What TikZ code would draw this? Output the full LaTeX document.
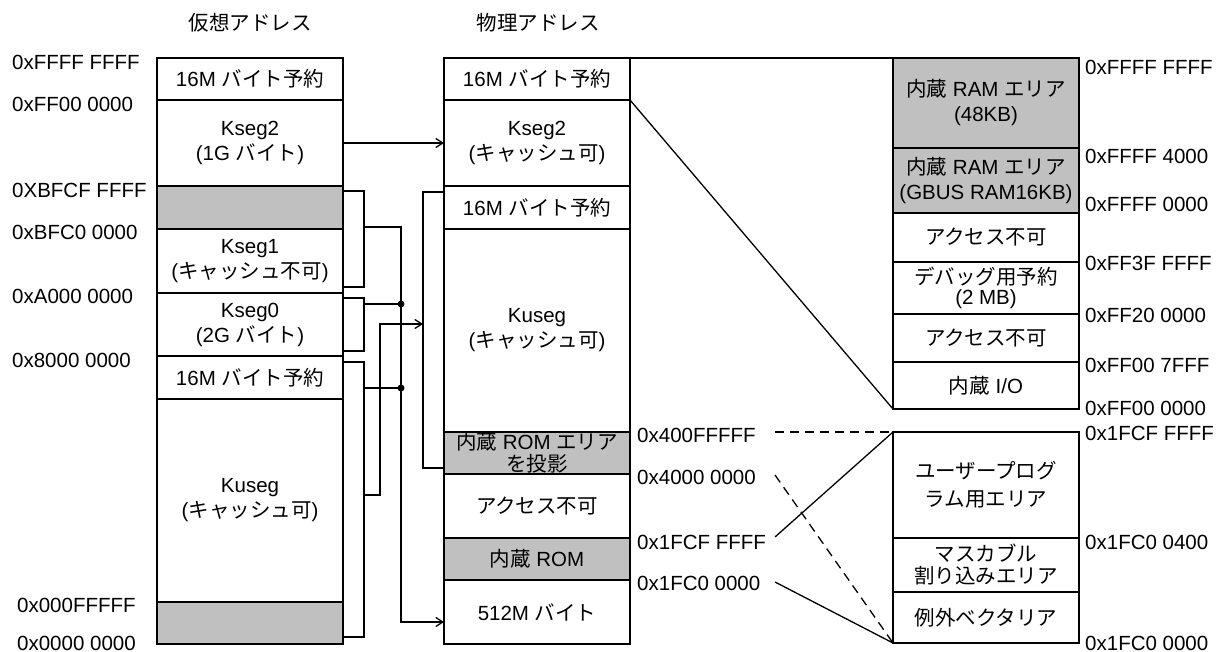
\documentclass[tikz,border=0pt]{standalone}
\usepackage{fontspec}
\setmainfont{Liberation Sans}
\newfontfamily\jpfont{Noto Sans CJK JP}
\usetikzlibrary{arrows.meta}
\definecolor{romgray}{RGB}{192,192,192}
\begin{document}
\begin{tikzpicture}[x=1pt, y=-1pt, >={Straight Barb[length=7pt,width=9pt]},
    font=\fontsize{20.5}{25}\selectfont,
    seg/.style={draw, line width=1.5pt, minimum width=186pt, inner sep=0pt, outer sep=0pt, anchor=north west, align=center},
    grey/.style={seg, fill=romgray},
    addr/.style={anchor=west, inner sep=0pt},
    wire/.style={line width=1.3pt},
    dots/.style={wire, dash pattern=on 9pt off 6pt},
    dot/.style={circle, fill, inner sep=0pt, minimum size=7pt}]
\useasboundingbox (0,0) rectangle (1224,652);
\node (vtitle) at (250,23) {\jpfont 仮想アドレス};
\node (ptitle) at (538,23) {\jpfont 物理アドレス};

\node[seg, minimum height=42pt] (vres1) at (157,58) {16M {\jpfont バイト予約}};
\node[seg, minimum height=86pt] (vk2) at (157,100) {Kseg2\\(1G {\jpfont バイト})};
\node[grey, minimum height=43pt] (vgap) at (157,186) {};
\node[seg, minimum height=64pt] (vk1) at (157,229) {Kseg1\\({\jpfont キャッシュ不可})};
\node[seg, minimum height=63pt] (vk0) at (157,293) {Kseg0\\(2G {\jpfont バイト})};
\node[seg, minimum height=43pt] (vres2) at (157,356) {16M {\jpfont バイト予約}};
\node[seg, minimum height=203pt] (vku) at (157,399) {Kuseg\\({\jpfont キャッシュ可})};
\node[grey, minimum height=42pt] (vlow) at (157,602) {};

\node[seg, minimum height=42pt] (pres1) at (444,58) {16M {\jpfont バイト予約}};
\node[seg, minimum height=86pt] (pk2) at (444,100) {Kseg2\\({\jpfont キャッシュ可})};
\node[seg, minimum height=43pt] (pres2) at (444,186) {16M {\jpfont バイト予約}};
\node[seg, minimum height=203pt] (pku) at (444,229) {Kuseg\\({\jpfont キャッシュ可})};
\node[grey, minimum height=42pt] (pmirror) at (444,432) {{\jpfont 内蔵} ROM {\jpfont エリア}\\[-3pt]{\jpfont を投影}};
\node[seg, minimum height=64pt] (pna) at (444,474) {\jpfont アクセス不可};
\node[grey, minimum height=42pt] (prom) at (444,538) {{\jpfont 内蔵} ROM};
\node[seg, minimum height=64pt] (p512) at (444,580) {512M {\jpfont バイト}};

\node[grey, minimum height=90pt] (ram48) at (893,58) {{\jpfont 内蔵} RAM {\jpfont エリア}\\(48KB)};
\node[grey, minimum height=65pt] (ramg) at (893,148) {{\jpfont 内蔵} RAM {\jpfont エリア}\\(GBUS RAM16KB)};
\node[seg, minimum height=49pt] (na1) at (893,213) {\jpfont アクセス不可};
\node[seg, minimum height=52pt] (dbg) at (893,262) {{\jpfont デバッグ用予約}\\[-5pt](2 MB)};
\node[seg, minimum height=48pt] (na2) at (893,314) {\jpfont アクセス不可};
\node[seg, minimum height=47pt] (io) at (893,362) {{\jpfont 内蔵} I/O};

\node[seg, minimum height=106pt] (user) at (893,432) {{\jpfont ユーザープログ}\\[3pt]{\jpfont ラム用エリア}};
\node[seg, minimum height=54pt] (mask) at (893,538) {{\jpfont マスカブル}\\[-3pt]{\jpfont 割り込みエリア}};
\node[seg, minimum height=51pt] (vec) at (893,592) {\jpfont 例外ベクタリア};

\node[addr] (a1) at (12,62) {0xFFFF FFFF};
\node[addr] (a2) at (12,104) {0xFF00 0000};
\node[addr] (a3) at (12,190) {0XBFCF FFFF};
\node[addr] (a4) at (12,232) {0xBFC0 0000};
\node[addr] (a5) at (12,296) {0xA000 0000};
\node[addr] (a6) at (12,360) {0x8000 0000};
\node[addr] (a7) at (17,605) {0x000FFFFF};
\node[addr] (a8) at (17,643) {0x0000 0000};

\node[addr] (b1) at (637,435) {0x400FFFFF};
\node[addr] (b2) at (637,477) {0x4000 0000};
\node[addr] (b3) at (637,542) {0x1FCF FFFF};
\node[addr] (b4) at (637,583) {0x1FC0 0000};

\node[addr] (c1) at (1085,67) {0xFFFF FFFF};
\node[addr] (c2) at (1085,156) {0xFFFF 4000};
\node[addr] (c3) at (1085,204) {0xFFFF 0000};
\node[addr] (c4) at (1085,263) {0xFF3F FFFF};
\node[addr] (c5) at (1085,315) {0xFF20 0000};
\node[addr] (c6) at (1085,365) {0xFF00 7FFF};
\node[addr] (c7) at (1085,408) {0xFF00 0000};
\node[addr] (c8) at (1085,433) {0x1FCF FFFF};
\node[addr] (c9) at (1085,542) {0x1FC0 0400};
\node[addr] (c10) at (1085,643) {0x1FC0 0000};

\draw[wire, ->] (vk2) -- (pk2);
\draw[wire] ([yshift=-5pt]vgap.north east) -- ++(21,0) |- ([yshift=6pt]vk1.south east);
\draw[wire] ([yshift=-5pt]vk0.north east) -- ++(21,0) |- ([yshift=5pt]vk0.south east);
\draw[wire] ([yshift=-6pt]vres2.north east) -- ++(21,0) |- ([yshift=7pt]vlow.south east);
\draw[wire] ([yshift=-6pt]pres2.north west) -- ++(-21,0) |- ([yshift=6pt]pmirror.south west);
\coordinate (ka) at (364,227);
\coordinate (kb) at (364,304);
\coordinate (kc) at (364,388);
\coordinate (kd) at (364,495);
\coordinate (bend) at (401,622);
\coordinate (up) at (380,324);
\coordinate (kuin) at (423,324);
\node[dot] (j1) at (401,304) {};
\node[dot] (j2) at (401,388) {};
\draw[wire, ->] (ka) -| (bend) -- (bend -| p512.west);
\draw[wire] (kb) -- (j1.center);
\draw[wire] (kc) -- (j2.center);
\draw[wire, ->] (kd) -| (up) -- (kuin);

\draw[wire] (pres1.north east) -- (ram48.north west);
\draw[wire] (pk2.north east) -- (io.south west);
\coordinate (m1) at (775,432);
\coordinate (m2) at (775,475);
\coordinate (m3) at (775,537);
\coordinate (m4) at (775,582);
\draw[dots] (m1) -- (user.north west);
\draw[dots] (m2) -- (vec.south west);
\draw[wire] (m3) -- (user.north west);
\draw[wire] (m4) -- (vec.south west);
\end{tikzpicture}
\end{document}
